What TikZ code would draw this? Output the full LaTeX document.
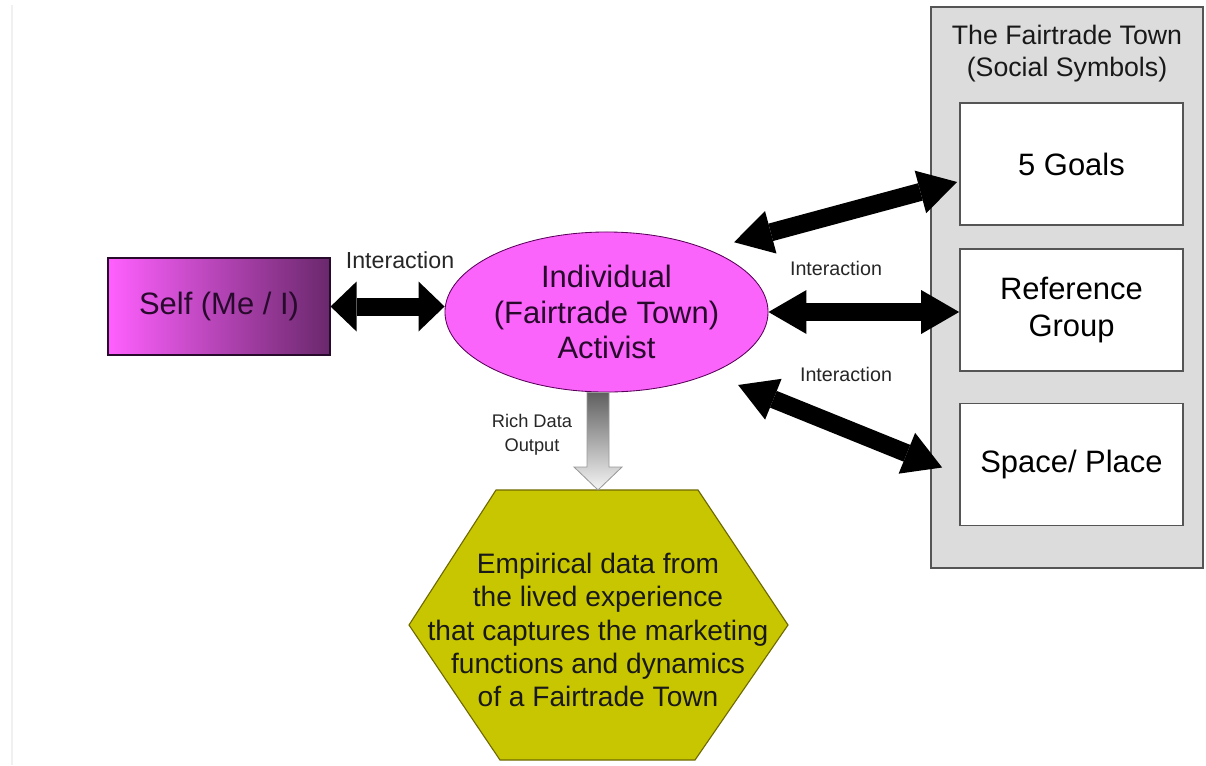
\documentclass[tikz,border=0pt]{standalone}
\usepackage{fontspec}
\setmainfont{Liberation Sans}
\usetikzlibrary{arrows.meta, shapes.geometric, calc}
\definecolor{selfpink}{RGB}{255,96,255}
\definecolor{selfdark}{RGB}{106,40,108}
\definecolor{activistpink}{RGB}{250,100,250}
\definecolor{hexyellow}{RGB}{200,198,0}
\definecolor{hexedge}{RGB}{110,105,0}
\definecolor{townfill}{RGB}{220,220,220}
\definecolor{boxedge}{RGB}{85,85,85}
\definecolor{inktext}{RGB}{40,10,45}
\definecolor{labeltext}{RGB}{38,38,38}
\tikzset{>=Triangle}

\begin{document}
\begin{tikzpicture}[x=0.025cm, y=-0.025cm,
  selfbox/.style={draw=inktext, line width=0.8pt, left color=selfpink, right color=selfdark,
    minimum width=5.55cm, minimum height=2.425cm, font=\fontsize{22}{26}\selectfont, text=inktext},
  activist/.style={ellipse, draw=violet!70!black, line width=0.6pt, fill=activistpink,
    minimum width=8.075cm, minimum height=4cm, inner sep=0pt, align=center,
    font=\fontsize{22}{25.5}\selectfont, text=inktext},
  townbox/.style={draw=boxedge, line width=1.2pt, fill=townfill, minimum width=6.8cm, minimum height=14.025cm},
  symbolbox/.style={draw=boxedge, line width=1.2pt, fill=white, minimum width=5.575cm, minimum height=3.05cm,
    align=center, font=\fontsize{22}{26}\selectfont},
  linklabel/.style={font=\fontsize{14}{17}\selectfont, text=labeltext, align=center},
  selflink/.style={line width=0.45cm, {Triangle[width=1.25cm,length=0.65cm,line width=0pt]}-{Triangle[width=1.25cm,length=0.65cm,line width=0pt]}},
  interlink/.style={line width=0.45cm, {Triangle[width=1.1cm,length=0.95cm,line width=0pt]}-{Triangle[width=1.1cm,length=0.95cm,line width=0pt]}},
  dataarrow/.style={draw=gray!80, line width=0.6pt, top color=gray!75!black, bottom color=gray!8},
  hexfill/.style={fill=hexyellow, draw=hexedge, line width=0.8pt},
  hextext/.style={align=center, font=\fontsize{20}{23.7}\selectfont, text=black!90}]
\useasboundingbox (0,0) rectangle (1206,765);
\draw[gray!12, line width=1pt] (12,5) -- (12,765);

% social symbols
\node[townbox] (town) at (1067,287.5) {};
\node[align=center, font=\fontsize{19}{22.7}\selectfont, text=black!90] (towntitle) at (1067,54) {The Fairtrade Town\\(Social Symbols)};
\node[symbolbox] (goals) at (1071.5,164) {5 Goals};
\node[symbolbox] (refgroup) at (1071.5,310) {Reference\\Group};
\node[symbolbox] (space) at (1071.5,464.5) {Space/ Place};

% self and activist
\node[selfbox] (self) at (219,306.5) {Self (Me / I)};
\node[activist] (indiv) at (606.5,312) {Individual\\(Fairtrade Town)\\Activist};

% output
\filldraw[hexfill] (496,490) -- (698,490) -- (788,625) -- (695,760) -- (500,760) -- (409,625) -- cycle;
\coordinate (hextop) at (598,490);
\node[hextext] (empdata) at (598,630) {Empirical data from\\the lived experience\\that captures the marketing\\functions and dynamics\\of a Fairtrade Town};
\shade[dataarrow] ($(hextop|-indiv.south)+(-11,0)$) -- ++(22,0) -- ($(hextop)+(11,-23)$) -- ++(13,0)
  -- (hextop) -- ++(-24,-23) -- ++(13,0) -- cycle;
\node[linklabel, font=\fontsize{13}{17}\selectfont] (richlbl) at (532,435) {Rich Data\\Output};

% interactions
\draw[selflink] (self.east) -- (self.east -| indiv.west);
\node[linklabel, font=\fontsize{16.5}{20}\selectfont] (selflbl) at (400,260) {Interaction};
\draw[interlink] ([shift={(17,-11)}]indiv.28) -- ([shift={(-2,18)}]goals.west);
\draw[interlink] (indiv.east) -- (indiv.east -| refgroup.west);
\draw[interlink] ([shift={(26,12)}]indiv.-30) -- ([shift={(-17,3)}]space.west);
\node[linklabel] (goallbl) at (836,268) {Interaction};
\node[linklabel] (spacelbl) at (846,374) {Interaction};
\end{tikzpicture}
\end{document}
